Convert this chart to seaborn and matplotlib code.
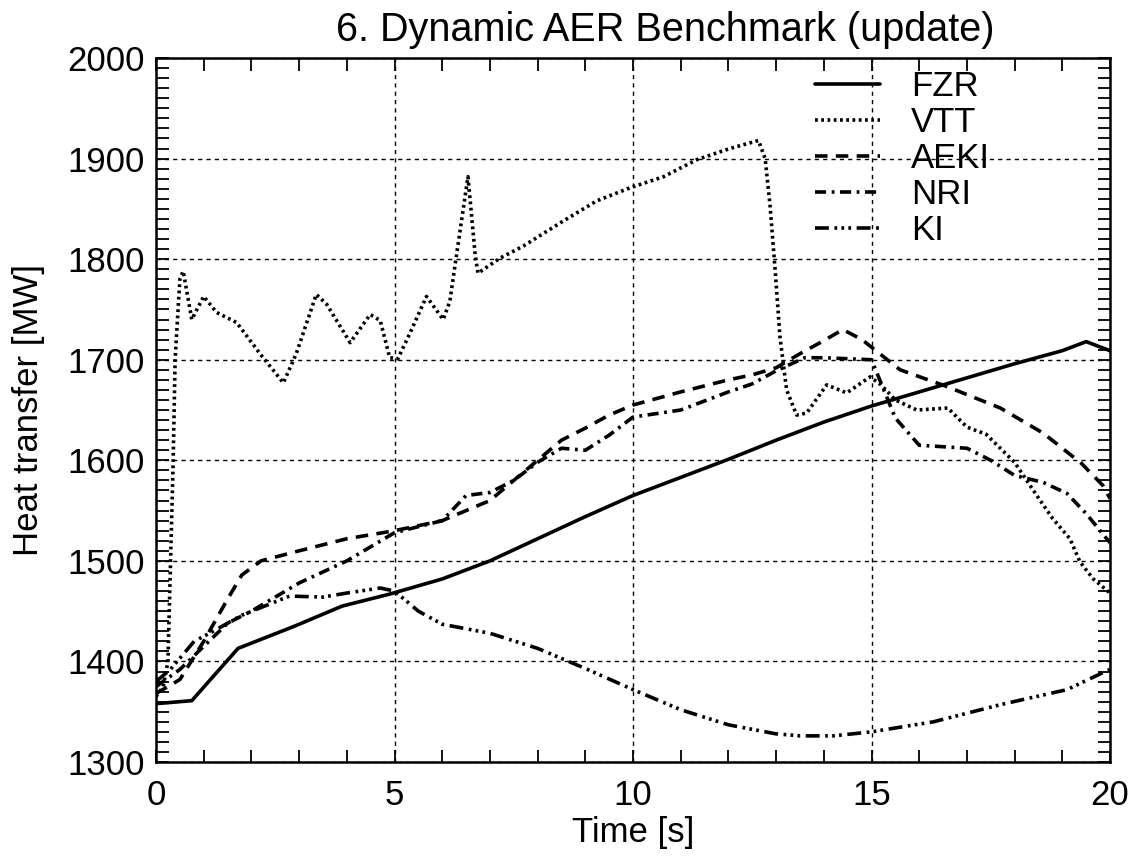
import numpy as np
import pandas as pd
import matplotlib
matplotlib.use("Agg")
import matplotlib.pyplot as plt
import seaborn as sns
from matplotlib.ticker import MultipleLocator

# ---- data ----
fzr_t = [0, 0.75, 1.72, 2.9, 3.9, 4.9, 6, 7, 8, 9, 10, 11, 12, 13, 14, 15, 16, 17, 18, 19, 19.5, 20]
fzr_q = [1358, 1361, 1413, 1435, 1455, 1467, 1482, 1500, 1522, 1544, 1565, 1583, 1601, 1620, 1638,
         1654, 1668, 1682, 1696, 1709, 1718, 1709]

vtt_t = [0, 0.15, 0.25, 0.36, 0.4, 0.5, 0.57, 0.75, 1.0, 1.27, 1.69, 2.18, 2.67, 2.94, 3.36, 3.58,
         4.07, 4.49, 4.7, 4.9, 5.07, 5.32, 5.67, 6.02, 6.16, 6.29, 6.54, 6.69, 6.75, 7.21, 7.7,
         8.54, 9.24, 9.94, 10.64, 11.34, 12.03, 12.63, 12.77, 12.87, 12.98, 13.08, 13.22, 13.43,
         13.64, 14.06, 14.48, 14.97, 15.2, 15.5, 15.95, 16.6, 17.0, 17.4, 18.0, 18.45, 18.8, 19.16,
         19.37, 19.65, 19.9, 20]
vtt_q = [1365, 1375, 1400, 1600, 1700, 1780, 1788, 1740, 1763, 1747, 1737, 1706, 1677, 1706, 1765, 1755,
         1717, 1745, 1739, 1702, 1701, 1726, 1763, 1740, 1758, 1801, 1882, 1805, 1786, 1801, 1813,
         1838, 1858, 1871, 1882, 1899, 1910, 1918, 1900, 1855, 1789, 1723, 1670, 1645,
         1647, 1675, 1667, 1683, 1675, 1660, 1650, 1652, 1633, 1626, 1598, 1566, 1542, 1522,
         1499, 1482, 1472, 1468]

aeki_t = [0, 0.5, 1, 1.5, 1.8, 2.2, 3, 4, 5, 6, 6.5, 7, 7.5, 8, 8.5, 9, 9.5, 10, 11, 12, 12.5, 13,
          13.5, 14, 14.4, 14.8, 15.6, 16.6, 17.7, 18.6, 19.4, 19.85, 20]
aeki_q = [1368, 1382, 1420, 1462, 1486, 1500, 1510, 1522, 1530, 1540, 1550, 1560, 1580, 1600, 1620,
          1632, 1645, 1655, 1668, 1680, 1685, 1692, 1706, 1719, 1730, 1720, 1690, 1673, 1652, 1627,
          1597, 1575, 1562]

nri_t = [0, 0.5, 1, 1.5, 2, 3, 4, 5, 6, 6.5, 7, 7.5, 8, 8.5, 9, 9.5, 10, 11, 12, 12.5, 13, 13.6, 14,
         15, 15.5, 16, 17, 17.5, 18, 18.6, 19.1, 19.5, 20]
nri_q = [1375, 1392, 1415, 1438, 1450, 1478, 1500, 1528, 1540, 1565, 1568, 1580, 1598, 1612, 1610,
         1625, 1643, 1650, 1668, 1676, 1689, 1702, 1702, 1700, 1642, 1615, 1612, 1600, 1585, 1578,
         1567, 1547, 1518]

ki_t = [0, 0.3, 0.8, 1.2, 1.8, 2.8, 3.5, 4, 4.7, 5, 5.5, 6, 7, 8, 9, 10, 11, 12, 13, 13.5, 14.2,
        15, 16.3, 17.7, 19.1, 19.9, 20]
ki_q = [1380, 1392, 1420, 1430, 1446, 1465, 1464, 1468, 1473, 1470, 1450, 1437, 1428, 1413, 1393,
        1372, 1352, 1337, 1328, 1326, 1326, 1330, 1340, 1357, 1372, 1390, 1392]

series = ["FZR", "VTT", "AEKI", "NRI", "KI"]
title = "6. Dynamic AER Benchmark (update)"
xlabel = "Time [s]"
ylabel = "Heat transfer [MW]"

# ---- styling ----
sns.set_theme(style="white")
plt.rcParams["font.family"] = ["Liberation Sans", "DejaVu Sans"]
plt.rcParams["lines.scale_dashes"] = False
for k in ["text.color", "axes.labelcolor", "xtick.color", "ytick.color", "axes.edgecolor"]:
    plt.rcParams[k] = "black"

styles = {
    "FZR": "-",
    "VTT": (0, (2.0, 2.5)),
    "AEKI": (0, (9, 6)),
    "NRI": (0, (8, 4, 2, 4)),
    "KI": (0, (10, 4, 2, 3, 2, 3, 2, 4)),
}

fig = plt.figure(figsize=(11.38, 8.56), dpi=100)
ax = fig.add_axes([0.1371, 0.1098, 0.9754 - 0.1371, 0.9322 - 0.1098])

data = {
    "FZR": (fzr_t, fzr_q),
    "VTT": (vtt_t, vtt_q),
    "AEKI": (aeki_t, aeki_q),
    "NRI": (nri_t, nri_q),
    "KI": (ki_t, ki_q),
}
for name in series:
    t, q = data[name]
    df = pd.DataFrame({"t": t, "q": q})
    sns.lineplot(data=df, x="t", y="q", ax=ax, color="black", linewidth=2.6,
                 linestyle=styles[name], estimator=None, sort=False, label=name)

ax.set_xlim(0, 20)
ax.set_ylim(1300, 2000)
ax.xaxis.set_major_locator(MultipleLocator(5))
ax.xaxis.set_minor_locator(MultipleLocator(1))
ax.yaxis.set_major_locator(MultipleLocator(100))
ax.yaxis.set_minor_locator(MultipleLocator(10))
ax.tick_params(which="both", direction="in", top=True, right=True, bottom=True, left=True,
               color="black", width=1.3)
ax.tick_params(which="major", length=9, labelsize=25)
ax.tick_params(which="minor", length=9)
ax.tick_params(axis="x", which="major", pad=12)
ax.tick_params(axis="y", which="major", pad=8)
ax.grid(True, which="major", color="black", linestyle=(0, (3, 3)), linewidth=1.0)
for sp in ax.spines.values():
    sp.set_color("black")
    sp.set_linewidth(1.8)

ax.set_xlabel(xlabel, fontsize=25, labelpad=3)
ax.set_ylabel(ylabel, fontsize=25, labelpad=16)
fig.text(665 / 1138, 1 - 11 / 856, title, fontsize=28.5, ha="center", va="top")

leg = ax.legend(loc="upper left", bbox_to_anchor=(815 / 1138, 1 - 70 / 856),
                bbox_transform=fig.transFigure, frameon=False, fontsize=25,
                handlelength=1.87, handletextpad=0.9, labelspacing=0.085, borderpad=0,
                borderaxespad=0)
for t in leg.get_texts():
    t.set_color("black")

fig.savefig("out.png", dpi=100, facecolor="white")
